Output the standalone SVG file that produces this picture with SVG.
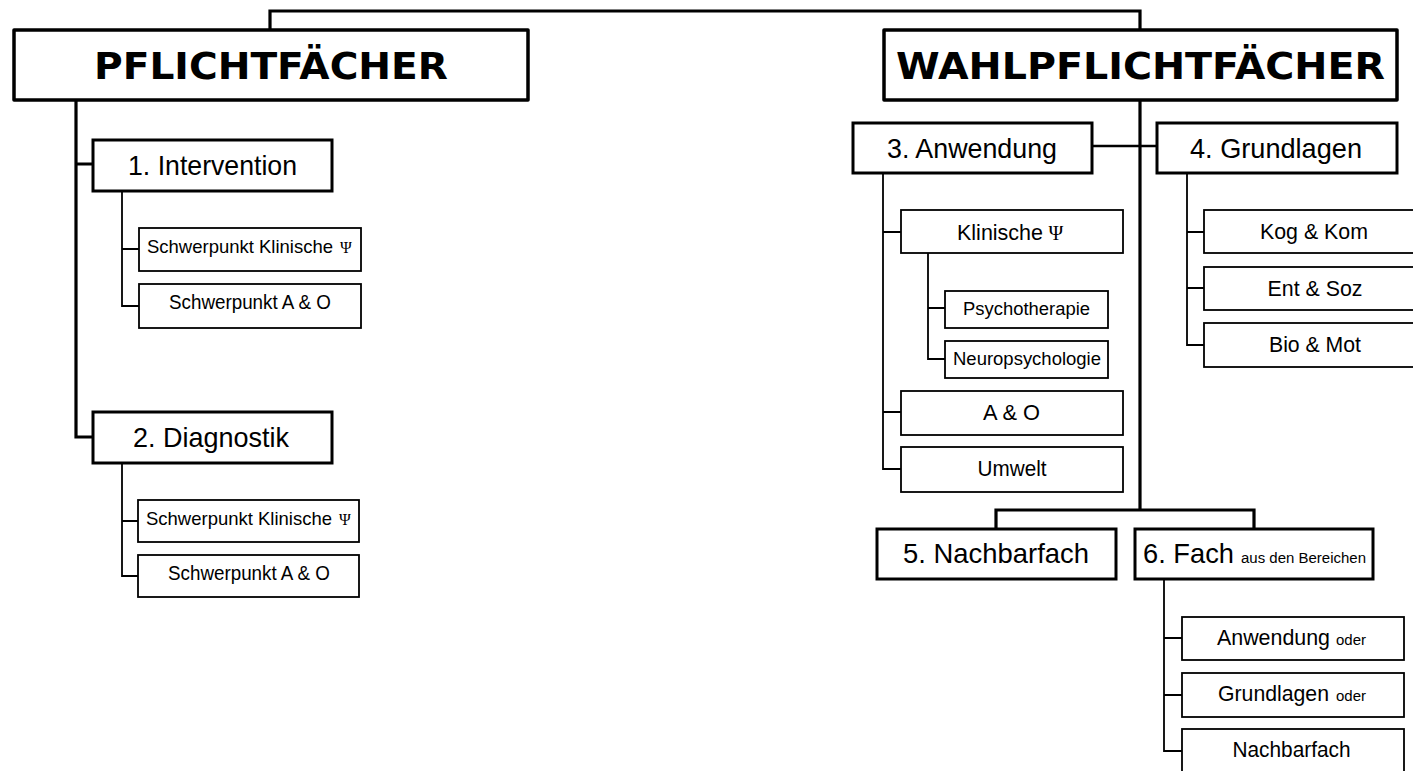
<svg xmlns="http://www.w3.org/2000/svg" width="1413" height="771" viewBox="0 0 1413 771">
<style>
.bg{fill:#fff}
.main{fill:#fff;stroke:#000;stroke-width:3.5;stroke-linejoin:round}
.l1{fill:#fff;stroke:#000;stroke-width:3}
.l2{fill:#fff;stroke:#000;stroke-width:1.8}
.thick{fill:none;stroke:#000;stroke-width:3.2}
.mid{fill:none;stroke:#000;stroke-width:2.6}
.thin{fill:none;stroke:#000;stroke-width:1.8}
.title{font-family:"DejaVu Sans",sans-serif;font-weight:bold;font-size:38px;fill:#000;text-anchor:middle}
.t1{font-family:"Liberation Sans",Arial,sans-serif;font-size:28.5px;fill:#000;text-anchor:middle}
.t2{font-family:"Liberation Sans",Arial,sans-serif;font-size:22px;fill:#000;text-anchor:middle}
.t3{font-family:"Liberation Sans",Arial,sans-serif;font-size:20px;fill:#000;text-anchor:middle}
.t3s{font-family:"Liberation Sans",Arial,sans-serif;font-size:18.5px;fill:#000;text-anchor:start}
.t4{font-family:"Liberation Sans",Arial,sans-serif;font-size:17.5px;fill:#000;text-anchor:middle}
.sm{font-family:"Liberation Sans",Arial,sans-serif;font-size:15.5px;fill:#000;text-anchor:start}
.st{text-anchor:start}
.psi{font-family:"Liberation Serif","DejaVu Serif",serif;fill:#000;text-anchor:start}
</style>
<rect class="bg" x="0" y="0" width="1413" height="771"/>

<g id="connectors">
  <path class="thick" d="M270,30 V11 H1140 V30"/>
  <path class="thick" d="M76,100 V437 H93 M76,164 H93"/>
  <path class="thin" d="M122,191 V306 H139 M122,249 H139"/>
  <path class="thin" d="M122,463 V576 H138 M122,521 H138"/>
  <path class="thick" d="M1140,100 V510"/>
  <path class="mid" d="M1092,146 H1157"/>
  <path class="thick" d="M996,529 V510 H1254 V529"/>
  <path class="thin" d="M883,173 V469 H901 M883,232 H901 M883,412 H901"/>
  <path class="thin" d="M928,253 V359 H945 M928,308 H945"/>
  <path class="thin" d="M1187,173 V345 H1204 M1187,232 H1204 M1187,288 H1204"/>
  <path class="thin" d="M1164,579 V751 H1182 M1164,638 H1182 M1164,695 H1182"/>
</g>

<g id="pflichtfaecher">
  <rect class="main" x="14" y="30" width="514" height="70"/>
  <text class="title" x="271" y="79" textLength="354" lengthAdjust="spacingAndGlyphs">PFLICHTFÄCHER</text>
</g>
<g id="wahlpflichtfaecher">
  <rect class="main" x="884" y="30" width="513" height="70"/>
  <text class="title" x="1140.5" y="79" textLength="489" lengthAdjust="spacingAndGlyphs">WAHLPFLICHTFÄCHER</text>
</g>

<g id="intervention">
  <rect class="l1" x="93" y="140" width="239" height="51"/>
  <text class="t1" x="212.5" y="175" textLength="169" lengthAdjust="spacingAndGlyphs">1. Intervention</text>
</g>
<g id="int-klin">
  <rect class="l2" x="139" y="228" width="222" height="43"/>
  <text class="t3s" x="147" y="253" textLength="186" lengthAdjust="spacingAndGlyphs">Schwerpunkt Klinische</text>
  <text class="psi" x="340" y="253" font-size="16">Ψ</text>
</g>
<g id="int-ao">
  <rect class="l2" x="139" y="284" width="222" height="44"/>
  <text class="t3" x="250" y="309" textLength="162" lengthAdjust="spacingAndGlyphs">Schwerpunkt A &amp; O</text>
</g>

<g id="diagnostik">
  <rect class="l1" x="93" y="412" width="239" height="51"/>
  <text class="t1" x="211" y="447" textLength="156" lengthAdjust="spacingAndGlyphs">2. Diagnostik</text>
</g>
<g id="diag-klin">
  <rect class="l2" x="138" y="500" width="221" height="42"/>
  <text class="t3s" x="146" y="525" textLength="186" lengthAdjust="spacingAndGlyphs">Schwerpunkt Klinische</text>
  <text class="psi" x="339" y="525" font-size="16">Ψ</text>
</g>
<g id="diag-ao">
  <rect class="l2" x="138" y="555" width="221" height="42"/>
  <text class="t3" x="249" y="580" textLength="162" lengthAdjust="spacingAndGlyphs">Schwerpunkt A &amp; O</text>
</g>

<g id="anwendung">
  <rect class="l1" x="853" y="123" width="239" height="50"/>
  <text class="t1" x="972" y="158" textLength="170" lengthAdjust="spacingAndGlyphs">3. Anwendung</text>
</g>
<g id="klinische">
  <rect class="l2" x="901" y="210" width="222" height="43"/>
  <text class="t2 st" x="957" y="240" textLength="86" lengthAdjust="spacingAndGlyphs">Klinische</text>
  <text class="psi" x="1048.5" y="240" font-size="20">Ψ</text>
</g>
<g id="psychotherapie">
  <rect class="l2" x="945" y="291" width="163" height="37"/>
  <text class="t4" x="1026.5" y="315" textLength="127" lengthAdjust="spacingAndGlyphs">Psychotherapie</text>
</g>
<g id="neuropsychologie">
  <rect class="l2" x="945" y="341" width="163" height="37"/>
  <text class="t4" x="1027" y="365" textLength="148" lengthAdjust="spacingAndGlyphs">Neuropsychologie</text>
</g>
<g id="ao">
  <rect class="l2" x="901" y="391" width="222" height="44"/>
  <text class="t2" x="1011.5" y="420" textLength="57" lengthAdjust="spacingAndGlyphs">A &amp; O</text>
</g>
<g id="umwelt">
  <rect class="l2" x="901" y="447" width="222" height="45"/>
  <text class="t2" x="1012" y="476" textLength="69" lengthAdjust="spacingAndGlyphs">Umwelt</text>
</g>

<g id="grundlagen">
  <rect class="l1" x="1157" y="123" width="240" height="50"/>
  <text class="t1" x="1276" y="158" textLength="172" lengthAdjust="spacingAndGlyphs">4. Grundlagen</text>
</g>
<g id="kog">
  <rect class="l2" x="1204" y="210" width="222" height="43"/>
  <text class="t2" x="1314" y="239" textLength="108" lengthAdjust="spacingAndGlyphs">Kog &amp; Kom</text>
</g>
<g id="ent">
  <rect class="l2" x="1204" y="267" width="222" height="43"/>
  <text class="t2" x="1315" y="296" textLength="95" lengthAdjust="spacingAndGlyphs">Ent &amp; Soz</text>
</g>
<g id="bio">
  <rect class="l2" x="1204" y="323" width="222" height="44"/>
  <text class="t2" x="1315" y="352" textLength="92" lengthAdjust="spacingAndGlyphs">Bio &amp; Mot</text>
</g>

<g id="nachbarfach">
  <rect class="l1" x="877" y="529" width="239" height="50"/>
  <text class="t1" x="996" y="563" textLength="186" lengthAdjust="spacingAndGlyphs">5. Nachbarfach</text>
</g>
<g id="fach">
  <rect class="l1" x="1135" y="529" width="238" height="50"/>
  <text class="t1 st" x="1143" y="563" textLength="91" lengthAdjust="spacingAndGlyphs">6. Fach</text>
  <text class="sm" x="1241" y="563" textLength="125" lengthAdjust="spacingAndGlyphs">aus den Bereichen</text>
</g>
<g id="fach-anwendung">
  <rect class="l2" x="1182" y="617" width="222" height="43"/>
  <text class="t2 st" x="1217" y="645" textLength="113" lengthAdjust="spacingAndGlyphs">Anwendung</text>
  <text class="sm" x="1336" y="645" textLength="30" lengthAdjust="spacingAndGlyphs">oder</text>
</g>
<g id="fach-grundlagen">
  <rect class="l2" x="1182" y="673" width="222" height="44"/>
  <text class="t2 st" x="1218" y="701" textLength="111" lengthAdjust="spacingAndGlyphs">Grundlagen</text>
  <text class="sm" x="1336" y="701" textLength="30" lengthAdjust="spacingAndGlyphs">oder</text>
</g>
<g id="fach-nachbarfach">
  <rect class="l2" x="1182" y="729" width="222" height="44"/>
  <text class="t2" x="1291.5" y="757" textLength="118" lengthAdjust="spacingAndGlyphs">Nachbarfach</text>
</g>
</svg>
